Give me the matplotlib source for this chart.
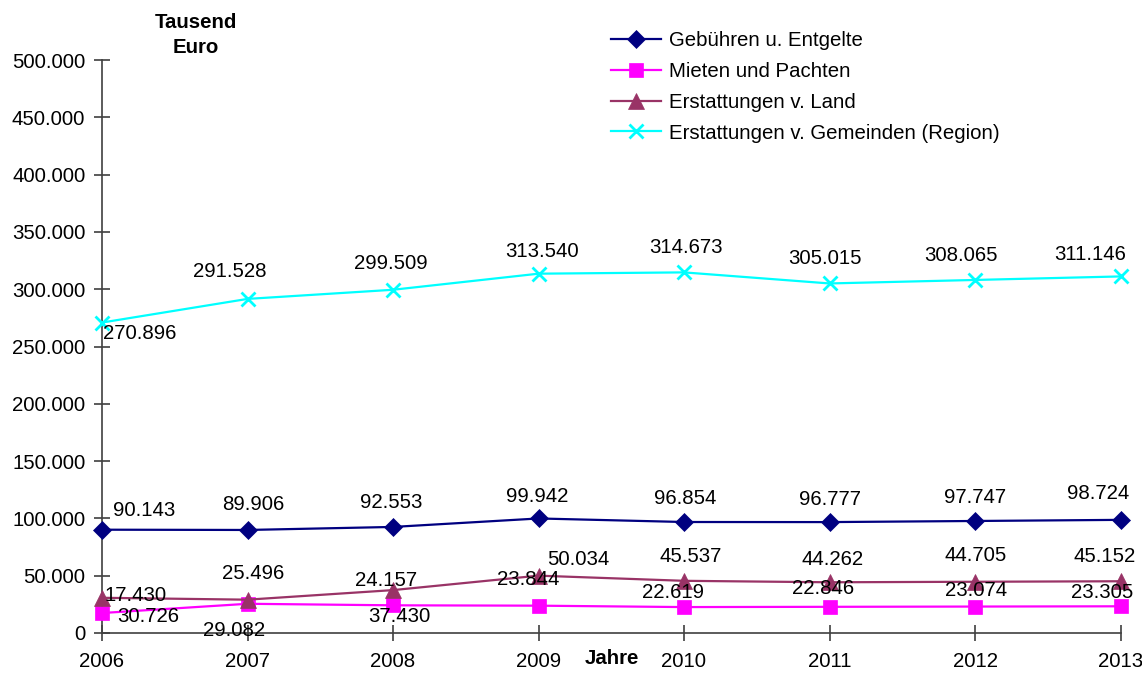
import matplotlib
matplotlib.use("Agg")
import matplotlib.pyplot as plt
from matplotlib.ticker import FuncFormatter

plt.rcParams['font.family'] = ['Liberation Sans', 'DejaVu Sans']

years = [2006, 2007, 2008, 2009, 2010, 2011, 2012, 2013]
series_names = ["Gebühren u. Entgelte", "Mieten und Pachten",
                "Erstattungen v. Land", "Erstattungen v. Gemeinden (Region)"]
gebuehren = [90143, 89906, 92553, 99942, 96854, 96777, 97747, 98724]
mieten = [17430, 25496, 24157, 23844, 22619, 22846, 23074, 23305]
land = [30726, 29082, 37430, 50034, 45537, 44262, 44705, 45152]
gemeinden = [270896, 291528, 299509, 313540, 314673, 305015, 308065, 311146]
y_ticks = [0, 50000, 100000, 150000, 200000, 250000, 300000, 350000, 400000, 450000, 500000]

# styles
colors = ['#000080', '#FF00FF', '#993366', '#00FFFF']
markers = ['D', 's', '^', 'x']
msizes = [9, 10, 11, 10]
# label offsets (pixels) as placed in the original chart
offs_geb = [(42, 19), (6, 25), (-2, 24), (-1, 22), (1, 24), (0, 23), (0, 23), (-22, 26)]
offs_mie = [(34, 18), (6, 30), (-7, 25), (-10, 26), (-11, 15), (-6, 18), (1, 16), (-18, 14)]
offs_lan = [(46, -19), (-13, -31), (6, -26), (40, 16), (7, 24), (3, 23), (1, 26), (-16, 25)]
offs_gem = [(38, -11), (-18, 27), (-2, 26), (3, 22), (2, 25), (-5, 25), (-14, 24), (-30, 22)]

FS = 14.7
W, H = 1142, 673
fig = plt.figure(figsize=(W / 100, H / 100), dpi=100)
ax = fig.add_axes([102 / W, 40 / H, (1120.5 - 102) / W, 573 / H])

data = [gebuehren, mieten, land, gemeinden]
offsets = [offs_geb, offs_mie, offs_lan, offs_gem]
for vals, name, c, m, ms, offs in zip(data, series_names, colors, markers, msizes, offsets):
    kw = dict(markeredgewidth=2) if m == 'x' else dict(markeredgewidth=0.5)
    ax.plot(years, vals, color=c, marker=m, markersize=ms, linewidth=1.6,
            label=name, clip_on=False, zorder=3, **kw)
    for x, v, (dx, dy) in zip(years, vals, offs):
        ax.annotate(f"{v:,}".replace(",", "."), (x, v), xytext=(dx, dy),
                    textcoords='offset pixels', ha='center', va='center',
                    fontsize=FS, color='black', annotation_clip=False, zorder=4)

ax.set_xlim(2006, 2013)
ax.set_ylim(0, 500000)
ax.set_xticks(years)
ax.set_yticks(y_ticks)
ax.yaxis.set_major_formatter(FuncFormatter(lambda v, p: "0" if v == 0 else f"{int(v):,}".replace(",", ".")))
for s in ['top', 'right']:
    ax.spines[s].set_visible(False)
for s in ['left', 'bottom']:
    ax.spines[s].set_color('#404040')
    ax.spines[s].set_linewidth(1.2)
ax.tick_params(axis='both', direction='inout', length=12, width=1.2, color='#404040',
               labelsize=FS)
ax.tick_params(axis='y', pad=6)
ax.tick_params(axis='x', pad=8)

leg = fig.legend(loc='upper left', bbox_to_anchor=(611 / W, 1 - 31 / H),
                 bbox_transform=fig.transFigure, frameon=False, fontsize=FS,
                 handlelength=2.45, handletextpad=0.4, labelspacing=0.58,
                 borderpad=0, borderaxespad=0)

fig.text(196 / W, 1 - 35 / H, "Tausend\nEuro", ha='center', va='center',
         fontsize=FS, fontweight='bold', linespacing=1.4)
fig.text(612 / W, 1 - 659 / H, "Jahre", ha='center', va='center',
         fontsize=FS, fontweight='bold')

fig.savefig("out.png", dpi=100)
